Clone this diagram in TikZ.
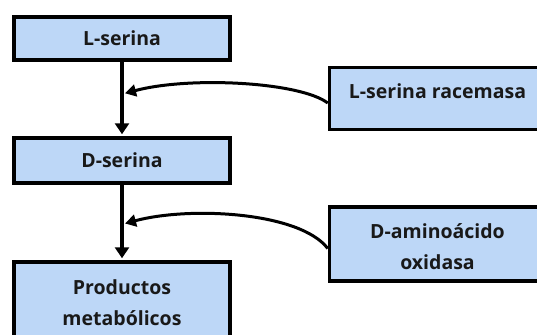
\documentclass[tikz,border=0pt]{standalone}
\usepackage{fontspec}
\setmainfont{Open Sans}
\usetikzlibrary{arrows.meta}
\definecolor{boxblue}{RGB}{189,215,247}

\begin{document}
\begin{tikzpicture}[x=1pt,y=-1pt,
  txt/.style={font=\fontsize{19.5}{31}\selectfont\bfseries,align=center,text=black!90},
  box/.style={txt,draw=black,line width=3.5pt,fill=boxblue,minimum width=216pt,inner sep=0pt},
  flow/.style={line width=4pt,-{Triangle[length=11pt,width=14pt]},shorten >=2pt},
  enz/.style={line width=3pt,-{Triangle[length=11pt,width=12pt]}}]
\useasboundingbox (0,0) rectangle (537,334);

% left column
\node[box,minimum height=43pt] (lser) at (122,38.5) {L-serina};
\node[box,minimum height=45pt] (dser) at (122,160.5) {D-serina};
\node[box,minimum height=82pt] (prod) at (122,303) {Productos\\metabólicos};

% enzymes
\node[box,minimum height=62pt,label={[txt,yshift=7pt]center:L-serina racemasa}] (race) at (437.5,98.5) {};
\node[box,minimum height=74pt,label={[txt,yshift=-3pt]center:D-aminoácido\\oxidasa}] (oxid) at (437.5,244) {};

\coordinate (hit1) at (125,93.3);
\coordinate (hit2) at (125,223.5);

\draw[flow] (lser) -- (dser);
\draw[flow] (dser) -- (prod);

\draw[enz] ([yshift=-4.5pt]race.west) .. controls (300,82) and (190,76) .. (hit1);
\draw[enz] ([yshift=-4.5pt]oxid.west) .. controls (300,212) and (190,206) .. (hit2);
\end{tikzpicture}
\end{document}
